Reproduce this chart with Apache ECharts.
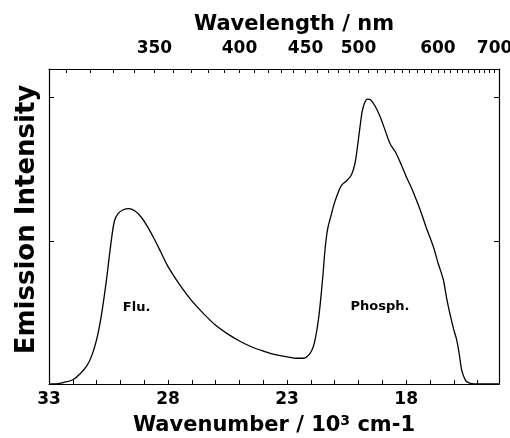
<!DOCTYPE html>
<html>
<head>
<meta charset="utf-8">
<script src="https://cdn.jsdelivr.net/npm/echarts@6/dist/echarts.min.js"></script>
<style>html,body{margin:0;padding:0;background:#fff}#c{width:510px;height:438px}</style>
</head>
<body>
<div id="c"></div>
<script>
// Wavenumber (10^3 cm^-1) and emission intensity (arb. units)
var wavenumber = [33.0,32.7,32.4,32.0,31.7,31.4,31.2,31.0,30.8,30.6,30.4,30.25,30.1,29.9,29.65,29.4,29.15,28.9,28.6,28.3,28.0,27.5,27.0,26.5,26.0,25.5,25.0,24.5,24.0,23.5,23.0,22.6,22.3,22.05,21.9,21.8,
  21.7,21.62,21.5,21.4,21.3,21.15,21.0,20.85,20.7,20.5,20.3,20.15,20.05,19.95,19.85,19.75,19.63,19.5,19.3,19.1,18.9,18.68,18.45,18.2,18.0,17.7,17.42,17.15,16.86,16.65,16.44,16.3,16.16,16.0,15.88,15.78,15.67,15.55,15.45,15.3,15.0,14.5,14.1];
var intensity = [0.0,0.0,0.01,0.03,0.07,0.13,0.2,0.31,0.48,0.71,0.98,1.14,1.19,1.215,1.225,1.21,1.17,1.11,1.02,0.92,0.82,0.69,0.58,0.49,0.41,0.35,0.30,0.26,0.23,0.205,0.19,0.18,0.18,0.21,0.26,0.33,
  0.43,0.54,0.75,0.95,1.08,1.18,1.27,1.34,1.39,1.42,1.46,1.54,1.65,1.78,1.9,1.96,1.99,1.985,1.94,1.87,1.78,1.68,1.62,1.53,1.45,1.34,1.22,1.09,0.96,0.84,0.73,0.6,0.49,0.38,0.31,0.22,0.10,0.04,0.015,0.005,0,0,0];

var bottomTickLabels = [33, 28, 23, 18];
var bottomTicks = [32,31,30,29,28,27,26,25,24,23,22,21,20,19,18,17,16,15];
var wavelengthLabels = [350, 400, 450, 500, 600, 700];
var wavelengthTicks = [];
for (var w = 310; w <= 700; w += 10) wavelengthTicks.push(w);

var annotations = [
  {name: 'Flu.', x: 29.32, y: 0.53},
  {name: 'Phosph.', x: 19.10, y: 0.54}
];

function nmToWn(nm) { return 10000 / nm; }

var FONT = 'DejaVu Sans';
var xMin = 14.1, xMax = 33;
var yMin = 0, yMax = 2.2;
var tickLen = 0.028; // bottom inward tick length in intensity units

var chart = echarts.init(document.getElementById('c'), null, {renderer: 'canvas'});
var lineData = wavenumber.map(function (x, i) { return [x, intensity[i]]; });

var baseX = {
  type: 'value', min: xMin, max: xMax, inverse: true,
  splitLine: {show: false}
};

chart.setOption({
  animation: false,
  backgroundColor: '#fff',
  grid: {left: 49, right: 11, top: 69, bottom: 54, containLabel: false, outerBoundsMode: 'none'},
  xAxis: [
    Object.assign({}, baseX, {
      position: 'bottom',
      name: '{t|Wavenumber / 10}{s|3}{t| cm-1}',
      nameLocation: 'middle', nameGap: 30,
      nameTextStyle: {
        rich: {
          t: {fontFamily: FONT, fontWeight: 'bold', fontSize: 21, color: '#000', lineHeight: 24},
          s: {fontFamily: FONT, fontWeight: 'bold', fontSize: 14, color: '#000', verticalAlign: 'top', lineHeight: 24, padding: [0, 0, 6, 0]}
        }
      },
      axisLine: {show: true, onZero: false, lineStyle: {color: '#000', width: 1.2}},
      axisTick: {show: false},
      axisLabel: {show: true, customValues: bottomTickLabels, margin: 7, fontFamily: FONT, fontWeight: 'bold', fontSize: 17, color: '#000'}
    }),
    Object.assign({}, baseX, {
      position: 'top',
      name: 'Wavelength / nm',
      nameLocation: 'middle', nameGap: 33,
      nameTextStyle: {fontFamily: FONT, fontWeight: 'bold', fontSize: 21, color: '#000', padding: [0, 0, 0, 40]},
      axisLine: {show: true, onZero: false, lineStyle: {color: '#000', width: 1.2}},
      axisTick: {show: true, inside: true, length: 4, customValues: wavelengthTicks.map(nmToWn), lineStyle: {color: '#000', width: 1}},
      axisLabel: {show: true, customValues: wavelengthLabels.map(nmToWn), margin: 12,
        formatter: function (v) { return String(Math.round(10000 / v)); },
        fontFamily: FONT, fontWeight: 'bold', fontSize: 17, color: '#000'}
    })
  ],
  yAxis: [
    {
      type: 'value', min: yMin, max: yMax, interval: 1, position: 'left',
      name: 'Emission Intensity', nameLocation: 'middle', nameGap: 9, nameRotate: 90,
      nameTextStyle: {fontFamily: FONT, fontWeight: 'bold', fontSize: 26, color: '#000', padding: [0, 0, 0, 14]},
      axisLine: {show: true, onZero: false, lineStyle: {color: '#000', width: 1.2}},
      axisTick: {show: true, inside: true, length: 5, lineStyle: {color: '#000', width: 1}},
      axisLabel: {show: false},
      splitLine: {show: false}
    },
    {
      type: 'value', min: yMin, max: yMax, interval: 1, position: 'right',
      axisLine: {show: true, onZero: false, lineStyle: {color: '#000', width: 1.2}},
      axisTick: {show: true, inside: true, length: 5, lineStyle: {color: '#000', width: 1}},
      axisLabel: {show: false},
      splitLine: {show: false}
    }
  ],
  series: [
    {
      type: 'line', xAxisIndex: 0, yAxisIndex: 0,
      data: lineData, smooth: 0.35, showSymbol: false, symbol: 'none',
      lineStyle: {color: '#000', width: 1.3},
      markLine: {
        silent: true, animation: false,
        symbol: ['none', 'none'],
        label: {show: false},
        lineStyle: {color: '#000', width: 1, type: 'solid'},
        emphasis: {disabled: true},
        data: bottomTicks.map(function (v) { return [{coord: [v, yMin]}, {coord: [v, yMin + tickLen]}]; })
      }
    },
    {
      type: 'scatter', xAxisIndex: 0, yAxisIndex: 0, symbolSize: 1,
      itemStyle: {color: 'rgba(0,0,0,0)'},
      data: annotations.map(function (a) { return {name: a.name, value: [a.x, a.y]}; }),
      label: {show: true, position: 'inside', formatter: '{b}', fontFamily: FONT, fontWeight: 'bold', fontSize: 13, color: '#000', opacity: 1},
      silent: true
    }
  ]
});
</script>
</body>
</html>
